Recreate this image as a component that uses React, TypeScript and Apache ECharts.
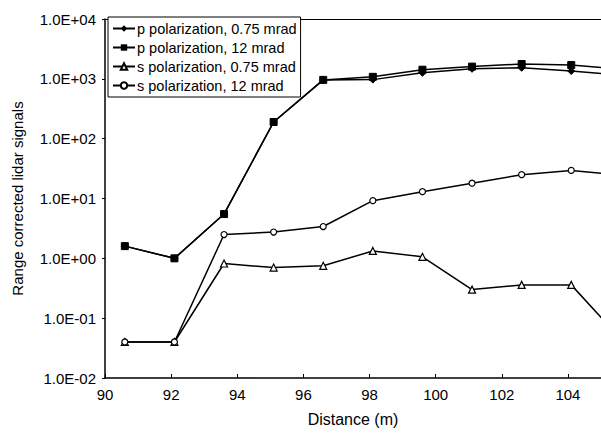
import React, { useEffect, useRef } from "react";
import * as echarts from "echarts";

const distances = [90.6, 92.1, 93.6, 95.1, 96.6, 98.1, 99.6, 101.1, 102.6, 104.1, 105.6];
const pPol075 = [1.6, 1.0, 5.5, 190, 960, 970, 1260, 1470, 1530, 1350, 1150];
const pPol12 = [1.6, 1.0, 5.5, 190, 960, 1080, 1420, 1600, 1770, 1700, 1450];
const sPol075 = [0.04, 0.04, 0.82, 0.7, 0.75, 1.33, 1.06, 0.3, 0.36, 0.36, 0.045];
const sPol12 = [0.04, 0.04, 2.5, 2.75, 3.4, 9.2, 13, 18, 25, 29.5, 24.5];

const seriesNames = [
  "p polarization, 0.75 mrad",
  "p polarization, 12 mrad",
  "s polarization, 0.75 mrad",
  "s polarization, 12 mrad",
];

const FONT = "'Liberation Sans', Arial, sans-serif";

function fmtExp(v: number): string {
  const e = Math.round(Math.log10(v));
  const sign = e < 0 ? "-" : "+";
  const a = Math.abs(e);
  return "1.0E" + sign + (a < 10 ? "0" + a : "" + a);
}

export default function App() {
  const ref = useRef<HTMLDivElement>(null);
  useEffect(() => {
    document.body.style.margin = "0";
    const chart = echarts.init(ref.current!, null, { renderer: "svg" });
    const pair = (ys: number[]) => distances.map((x, i) => [x, ys[i]]);
    const lineStyle = { color: "#000", width: 1.5 };
    chart.setOption({
      animation: false,
      backgroundColor: "#fff",
      textStyle: { fontFamily: FONT, color: "#000" },
      grid: { left: 105, right: 0, top: 19, bottom: 61 },
      legend: {
        orient: "vertical",
        left: 108,
        top: 17,
        backgroundColor: "#fff",
        borderColor: "#000",
        borderWidth: 1,
        padding: [3, 4, 3, 4],
        itemWidth: 22,
        itemHeight: 8,
        itemGap: 2,
        textStyle: { fontFamily: FONT, fontSize: 14.5, lineHeight: 17, color: "#000", padding: [0, 0, 0, -3] },
        data: seriesNames,
      },
      xAxis: [
        {
          type: "value",
          min: 90,
          max: 105,
          interval: 2,
          name: "Distance (m)",
          nameLocation: "middle",
          nameGap: 33,
          nameTextStyle: { fontFamily: FONT, fontSize: 16, color: "#000" },
          axisLine: { show: true, onZero: false, lineStyle: { color: "#000", width: 1.5 } },
          axisTick: { show: true, inside: true, length: 4, lineStyle: { color: "#000" } },
          axisLabel: { fontFamily: FONT, fontSize: 15, color: "#000", margin: 9, showMaxLabel: false },
          splitLine: { show: false },
        },
        {
          type: "value",
          min: 90,
          max: 105,
          position: "top",
          axisLine: { show: true, onZero: false, lineStyle: { color: "#000", width: 1 } },
          axisTick: { show: false },
          axisLabel: { show: false },
          splitLine: { show: false },
        },
      ],
      yAxis: {
        type: "log",
        logBase: 10,
        min: 0.01,
        max: 10000,
        name: "Range corrected lidar signals",
        nameLocation: "middle",
        nameGap: 80,
        nameTextStyle: { fontFamily: FONT, fontSize: 15, color: "#000" },
        axisLine: { show: true, lineStyle: { color: "#000", width: 1.5 } },
        axisTick: { show: true, length: 3, lineStyle: { color: "#000" } },
        axisLabel: { fontFamily: FONT, fontSize: 15, color: "#000", margin: 9, formatter: (v: number) => fmtExp(v) },
        splitLine: { show: false },
        minorTick: { show: false },
      },
      series: [
        {
          name: seriesNames[0],
          type: "line",
          data: pair(pPol075),
          symbol: "diamond",
          symbolSize: 7,
          itemStyle: { color: "#000", borderColor: "#000" },
          lineStyle,
        },
        {
          name: seriesNames[1],
          type: "line",
          data: pair(pPol12),
          symbol: "rect",
          symbolSize: 7,
          itemStyle: { color: "#000", borderColor: "#000" },
          lineStyle,
        },
        {
          name: seriesNames[2],
          type: "line",
          data: pair(sPol075),
          symbol: "triangle",
          symbolSize: 7,
          itemStyle: { color: "#fff", borderColor: "#000", borderWidth: 1.2 },
          lineStyle,
        },
        {
          name: seriesNames[3],
          type: "line",
          data: pair(sPol12),
          symbol: "circle",
          symbolSize: 6,
          itemStyle: { color: "#fff", borderColor: "#000", borderWidth: 1.2 },
          lineStyle,
        },
      ],
    });
    return () => chart.dispose();
  }, []);
  return <div ref={ref} style={{ width: 601, height: 439 }} />;
}
